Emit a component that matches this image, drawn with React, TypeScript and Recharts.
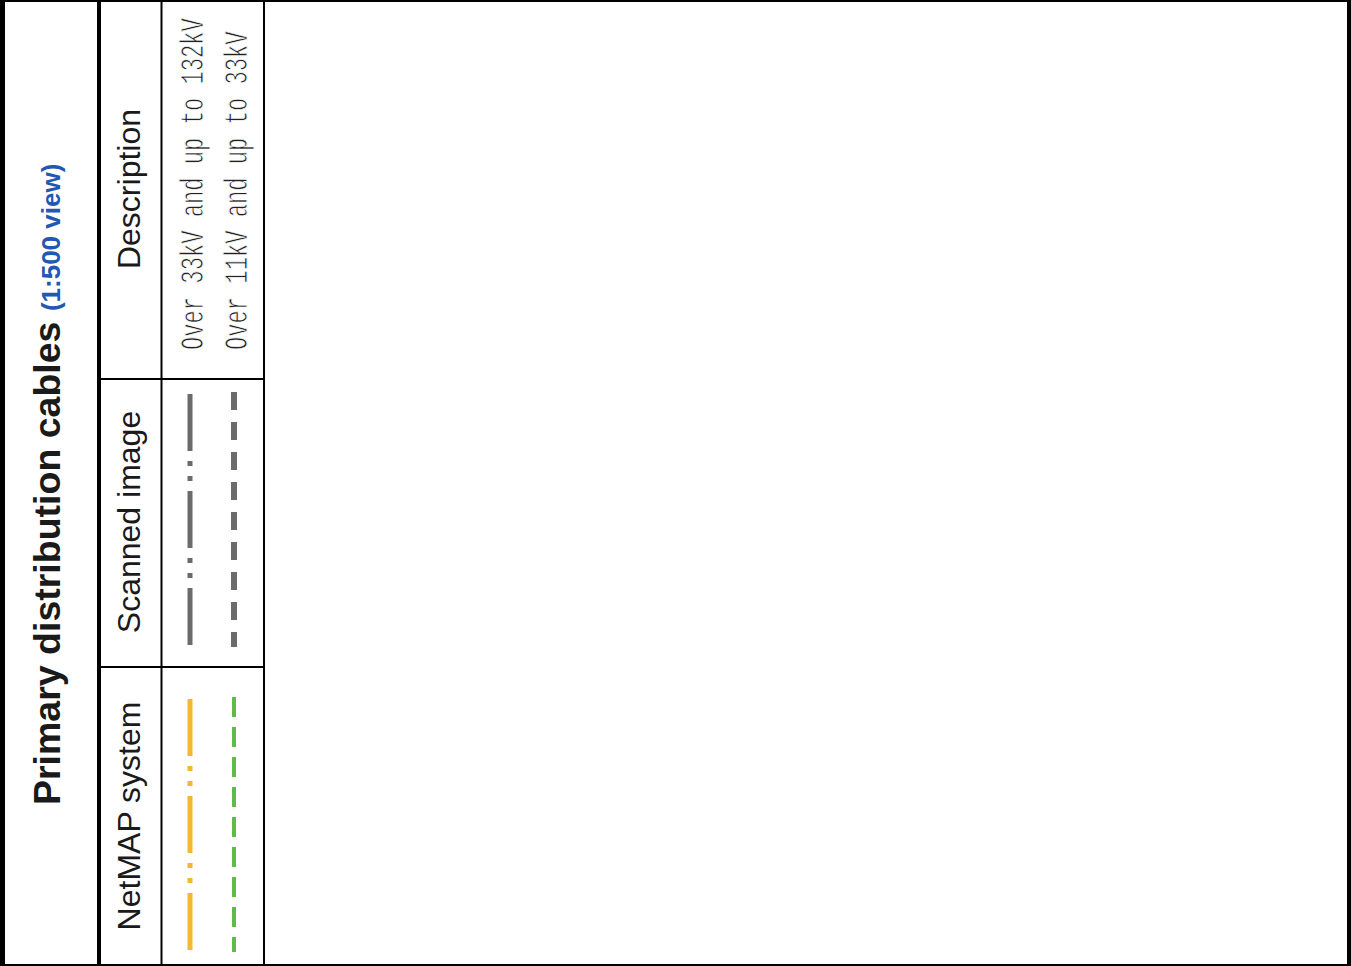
import React from "react";
import { ComposedChart, XAxis, YAxis, ReferenceLine } from "recharts";

const W = 1351;
const H = 966;

// table content
const titleMain = "Primary distribution cables";
const titleScale = "(1:500 view)";
const headers = ["NetMAP system", "Scanned image", "Description"];
const descriptions = ["Over 33kV and up to 132kV", "Over 11kV and up to 33kV"];
const netmapColors = ["#f4b731", "#5dbb46"];
const scannedColors = ["#6b6b6b", "#6b6b6b"];

// layout (the table is drawn turned a quarter to the left)
const colSpans: [number, number][] = [
  [666, 966],
  [378, 666],
  [0, 378],
];
const rowX = [190, 234];
const netmapSeg: [number, number][] = [
  [950, 697],
  [697, 952],
];
const scannedSeg: [number, number][] = [
  [645, 392],
  [392, 647],
];
const dashes = [
  { netmap: "57 10 5 10 5 10", scanned: "57 10 5 10 5 10", wN: 5, wS: 5 },
  { netmap: "20 10", scanned: "18 12", wN: 4, wS: 6 },
];
const DESC_SIZE = 34;
const DESC_SQUEEZE = 0.651; // the CAD font is much narrower than Liberation Mono

type TextOpts = {
  anchor: "start" | "middle";
  at: "start" | "center";
  size: number;
  weight?: string | number;
  family?: string;
  fill?: string;
  squeeze?: number;
  thin?: boolean;
};

const rotText = (content: React.ReactNode, opts: TextOpts) => (props: any) => {
  const vb = props.viewBox || {};
  const cx = vb.x;
  const cy = opts.at === "center" ? vb.y + vb.height / 2 : vb.y + vb.height;
  let tf = `rotate(-90 ${cx} ${cy})`;
  if (opts.squeeze) tf += ` translate(${cx} ${cy}) scale(${opts.squeeze} 1) translate(${-cx} ${-cy})`;
  return (
    <text
      x={cx}
      y={cy}
      transform={tf}
      textAnchor={opts.anchor}
      fontSize={opts.size}
      fontWeight={opts.weight ?? "normal"}
      fontFamily={opts.family ?? "'Liberation Sans', Arial, sans-serif"}
      fill={opts.fill ?? "#1a1a1a"}
      stroke={opts.thin ? "#fff" : undefined}
      strokeWidth={opts.thin ? 0.9 : undefined}
    >
      {content}
    </text>
  );
};

const App = () => {
  return (
    <div style={{ position: "absolute", left: 0, top: 0, width: W, height: H, background: "#fff" }}>
      <ComposedChart width={W} height={H} data={[]} margin={{ top: 0, right: 0, bottom: 0, left: 0 }}>
        <XAxis type="number" dataKey="x" domain={[0, W]} hide allowDataOverflow />
        <YAxis type="number" dataKey="y" domain={[0, H]} hide reversed allowDataOverflow />

        {/* frame */}
        <ReferenceLine segment={[{ x: 0, y: 0 }, { x: 0, y: H }]} stroke="#000" strokeWidth={10} ifOverflow="visible" />
        <ReferenceLine segment={[{ x: 0, y: 0 }, { x: W, y: 0 }]} stroke="#000" strokeWidth={4} ifOverflow="visible" />
        <ReferenceLine segment={[{ x: W, y: 0 }, { x: W, y: H }]} stroke="#000" strokeWidth={8} ifOverflow="visible" />
        <ReferenceLine segment={[{ x: 0, y: H }, { x: W, y: H }]} stroke="#000" strokeWidth={4} ifOverflow="visible" />
        <ReferenceLine segment={[{ x: 99, y: 0 }, { x: 99, y: H }]} stroke="#000" strokeWidth={4} ifOverflow="visible" />
        <ReferenceLine segment={[{ x: 161.5, y: 0 }, { x: 161.5, y: H }]} stroke="#000" strokeWidth={2} ifOverflow="visible" />
        <ReferenceLine segment={[{ x: 264, y: 0 }, { x: 264, y: H }]} stroke="#000" strokeWidth={2} ifOverflow="visible" />
        <ReferenceLine segment={[{ x: 99, y: 379 }, { x: 264, y: 379 }]} stroke="#000" strokeWidth={2} ifOverflow="visible" />
        <ReferenceLine segment={[{ x: 99, y: 667 }, { x: 264, y: 667 }]} stroke="#000" strokeWidth={2} ifOverflow="visible" />

        {/* title */}
        <ReferenceLine
          segment={[{ x: 60, y: 160 }, { x: 60, y: 805 }]}
          stroke="none"
          ifOverflow="visible"
          label={rotText(
            <>
              <tspan fontWeight="bold" fontSize={37.5} fill="#1a1a1a">{titleMain} </tspan>
              <tspan fontWeight="bold" fontSize={26} fill="#2258b3">{titleScale}</tspan>
            </>,
            { anchor: "start", at: "start", size: 37.5, weight: "bold" }
          )}
        />

        {/* header cells */}
        {headers.map((h, i) => (
          <ReferenceLine
            key={h}
            segment={[{ x: 140, y: colSpans[i][0] }, { x: 140, y: colSpans[i][1] }]}
            stroke="none"
            ifOverflow="visible"
            label={rotText(h, { anchor: "middle", at: "center", size: 32 })}
          />
        ))}

        {/* symbol rows */}
        {rowX.map((x, r) => (
          <ReferenceLine
            key={`n${r}`}
            segment={[{ x, y: netmapSeg[r][0] }, { x, y: netmapSeg[r][1] }]}
            stroke={netmapColors[r]}
            strokeWidth={dashes[r].wN}
            strokeDasharray={dashes[r].netmap}
            ifOverflow="visible"
          />
        ))}
        {rowX.map((x, r) => (
          <ReferenceLine
            key={`s${r}`}
            segment={[{ x, y: scannedSeg[r][0] }, { x, y: scannedSeg[r][1] }]}
            stroke={scannedColors[r]}
            strokeWidth={dashes[r].wS}
            strokeDasharray={dashes[r].scanned}
            ifOverflow="visible"
          />
        ))}

        {/* descriptions */}
        {descriptions.map((d, r) => (
          <ReferenceLine
            key={d}
            segment={[{ x: rowX[r] + 13, y: 20 }, { x: rowX[r] + 13, y: 350 }]}
            stroke="none"
            ifOverflow="visible"
            label={rotText(d, {
              anchor: "start",
              at: "start",
              size: DESC_SIZE,
              family: "'Liberation Mono', 'DejaVu Sans Mono', monospace",
              fill: "#222",
              squeeze: DESC_SQUEEZE,
              thin: true,
            })}
          />
        ))}
      </ComposedChart>
    </div>
  );
};

export default App;
